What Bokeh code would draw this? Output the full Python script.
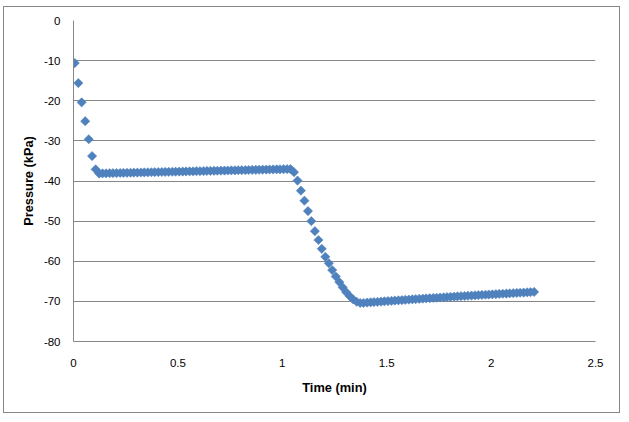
import math
from bokeh.plotting import figure
from bokeh.models import Range1d, FixedTicker, ColumnDataSource
from bokeh.embed import file_html
from bokeh.resources import INLINE

# ---- data ----
time_min = [
    0.006, 0.023, 0.039, 0.056, 0.073, 0.089,
    0.106, 0.123, 0.139, 0.156, 0.173, 0.189,
    0.206, 0.223, 0.239, 0.256, 0.273, 0.289,
    0.306, 0.323, 0.339, 0.356, 0.373, 0.389,
    0.406, 0.423, 0.439, 0.456, 0.473, 0.489,
    0.506, 0.523, 0.539, 0.556, 0.573, 0.589,
    0.606, 0.623, 0.639, 0.656, 0.673, 0.689,
    0.706, 0.723, 0.739, 0.756, 0.773, 0.789,
    0.806, 0.823, 0.839, 0.856, 0.873, 0.889,
    0.906, 0.923, 0.939, 0.956, 0.973, 0.989,
    1.006, 1.023, 1.039, 1.056, 1.073, 1.089,
    1.106, 1.123, 1.139, 1.156, 1.173, 1.189,
    1.206, 1.223, 1.239, 1.256, 1.273, 1.289,
    1.306, 1.323, 1.339, 1.356, 1.373, 1.389,
    1.406, 1.423, 1.439, 1.456, 1.473, 1.489,
    1.506, 1.523, 1.539, 1.556, 1.573, 1.589,
    1.606, 1.623, 1.639, 1.656, 1.673, 1.689,
    1.706, 1.723, 1.739, 1.756, 1.773, 1.789,
    1.806, 1.823, 1.839, 1.856, 1.873, 1.889,
    1.906, 1.923, 1.939, 1.956, 1.973, 1.989,
    2.006, 2.023, 2.039, 2.056, 2.073, 2.089,
    2.106, 2.123, 2.139, 2.156, 2.173, 2.189,
    2.206,
]

pressure_kpa = [
    -10.6, -15.6, -20.4, -25.1, -29.6, -33.8, -37.1, -38.15,
    -38.10, -38.08, -38.06, -38.04, -38.02, -38.00, -37.98, -37.96,
    -37.94, -37.92, -37.90, -37.88, -37.86, -37.84, -37.82, -37.80,
    -37.78, -37.76, -37.74, -37.72, -37.70, -37.68, -37.66, -37.64,
    -37.62, -37.60, -37.58, -37.56, -37.54, -37.52, -37.50, -37.48,
    -37.46, -37.44, -37.42, -37.40, -37.38, -37.36, -37.34, -37.32,
    -37.30, -37.28, -37.26, -37.24, -37.22, -37.20, -37.18, -37.16,
    -37.14, -37.12, -37.10, -37.08, -37.06, -37.04, -37.02,
    -37.8, -39.9, -42.4, -44.9, -47.5, -50.0, -52.5, -54.7,
    -56.9, -58.9, -60.5, -62.2, -63.8, -65.2, -66.5, -67.7,
    -68.7, -69.5, -70.1, -70.4, -70.4,
    -70.30, -70.24, -70.17, -70.11, -70.04, -69.98, -69.92, -69.86,
    -69.80, -69.74, -69.68, -69.62, -69.56, -69.50, -69.44, -69.38,
    -69.32, -69.26, -69.21, -69.15, -69.09, -69.04, -68.98, -68.93,
    -68.87, -68.82, -68.76, -68.71, -68.66, -68.60, -68.55, -68.50,
    -68.45, -68.40, -68.35, -68.30, -68.25, -68.20, -68.15, -68.10,
    -68.05, -68.00, -67.95, -67.90, -67.85, -67.80, -67.75, -67.70,
    -67.65,
]

x_ticks = [0, 0.5, 1, 1.5, 2, 2.5]
x_tick_labels = ["0", "0.5", "1", "1.5", "2", "2.5"]
y_ticks = [0, -10, -20, -30, -40, -50, -60, -70, -80]
y_tick_labels = ["0", "-10", "-20", "-30", "-40", "-50", "-60", "-70", "-80"]

x_title = "Time (min)"
y_title = "Pressure (kPa)"

# ---- styling ----
GRID = "#868686"
BLUE = "#4F81BD"
FONT = "Liberation Sans"

p = figure(
    frame_width=522, frame_height=321,
    min_border_left=69, min_border_right=24,
    min_border_top=13, min_border_bottom=71,
    x_range=Range1d(0, 2.5), y_range=Range1d(-80, 0),
    output_backend="svg", toolbar_location=None,
    styles={"border": "1px solid #868686", "margin": "6px 0px 0px 3px"},
)
p.outline_line_color = None
p.background_fill_color = "white"
p.border_fill_color = "white"

src = ColumnDataSource(dict(t=time_min, p=pressure_kpa))
p.scatter("t", "p", source=src, marker="square", size=6.5, angle=math.pi / 4,
          fill_color=BLUE, line_color=BLUE, line_width=0.6)

p.xgrid.grid_line_color = None
p.ygrid.grid_line_color = GRID
p.ygrid.grid_line_width = 1
p.ygrid.ticker = FixedTicker(ticks=y_ticks)

for ax in (p.xaxis[0], p.yaxis[0]):
    ax.axis_line_color = GRID
    ax.axis_line_width = 1
    ax.major_tick_line_color = None
    ax.minor_tick_line_color = None
    ax.major_tick_out = 0
    ax.major_tick_in = 0
    ax.minor_tick_out = 0
    ax.minor_tick_in = 0
    ax.major_label_text_font = FONT
    ax.major_label_text_font_size = "11.5px"
    ax.major_label_text_color = "#000000"
    ax.axis_label_text_font = FONT
    ax.axis_label_text_font_size = "12.8px"
    ax.axis_label_text_font_style = "bold"
    ax.axis_label_text_color = "#000000"

p.xaxis[0].ticker = FixedTicker(ticks=x_ticks)
p.xaxis[0].major_label_overrides = dict(zip(x_ticks, x_tick_labels))
p.xaxis[0].major_label_standoff = 17
p.xaxis[0].axis_label = x_title
p.xaxis[0].axis_label_standoff = 10

p.yaxis[0].ticker = FixedTicker(ticks=y_ticks)
p.yaxis[0].major_label_overrides = dict(zip(y_ticks, y_tick_labels))
p.yaxis[0].major_label_standoff = 13
p.yaxis[0].axis_label = y_title
p.yaxis[0].axis_label_standoff = 5

open("out.html", "w").write(file_html(p, INLINE))
